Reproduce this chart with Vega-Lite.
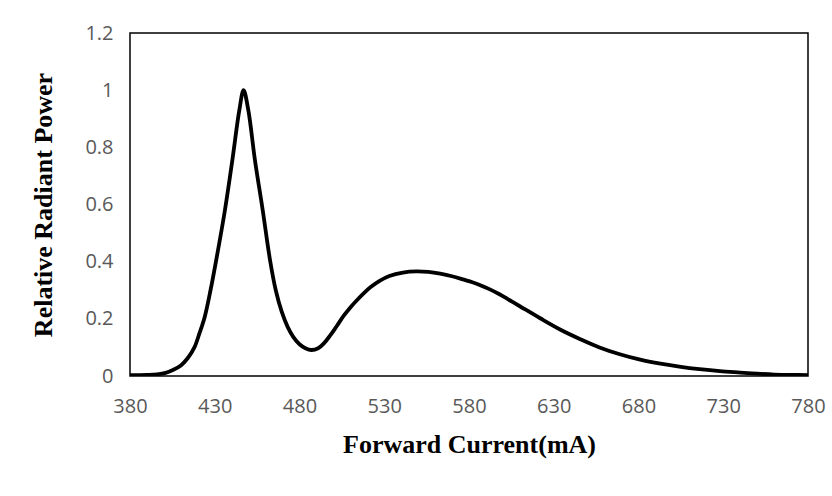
{
  "$schema": "https://vega.github.io/schema/vega-lite/v6.json",
  "autosize": "none",
  "width": 678,
  "height": 343,
  "padding": {"left": 130, "top": 33, "right": 24, "bottom": 120},
  "background": "white",
  "config": {
    "view": {"stroke": "#000000", "strokeWidth": 1.5},
    "axis": {
      "grid": false,
      "ticks": false,
      "domain": false,
      "labelFlush": false,
      "labelFont": "Open Sans",
      "labelFontSize": 20,
      "labelColor": "#595959",
      "titleFont": "Liberation Serif",
      "titleFontWeight": "bold",
      "titleFontSize": 26,
      "titleColor": "#000000"
    }
  },
  "data": {
    "values": [
      {"wl": 380, "p": 0.003},
      {"wl": 390, "p": 0.004},
      {"wl": 396, "p": 0.006},
      {"wl": 401, "p": 0.011},
      {"wl": 405, "p": 0.02},
      {"wl": 410, "p": 0.037},
      {"wl": 414, "p": 0.062},
      {"wl": 418, "p": 0.1},
      {"wl": 421, "p": 0.15},
      {"wl": 424, "p": 0.205},
      {"wl": 427.5, "p": 0.3},
      {"wl": 431, "p": 0.41},
      {"wl": 436, "p": 0.58},
      {"wl": 440.5, "p": 0.76},
      {"wl": 444.5, "p": 0.93},
      {"wl": 447, "p": 1.0},
      {"wl": 449.8, "p": 0.93},
      {"wl": 453.7, "p": 0.756},
      {"wl": 458.3, "p": 0.58},
      {"wl": 462.6, "p": 0.406},
      {"wl": 466, "p": 0.3},
      {"wl": 469.5, "p": 0.225},
      {"wl": 473, "p": 0.172},
      {"wl": 476.3, "p": 0.137},
      {"wl": 480, "p": 0.111},
      {"wl": 483.5, "p": 0.097},
      {"wl": 487, "p": 0.091},
      {"wl": 491, "p": 0.097},
      {"wl": 494.5, "p": 0.115},
      {"wl": 498, "p": 0.141},
      {"wl": 502, "p": 0.175},
      {"wl": 506, "p": 0.21},
      {"wl": 510, "p": 0.24},
      {"wl": 514, "p": 0.266},
      {"wl": 518, "p": 0.29},
      {"wl": 522, "p": 0.311},
      {"wl": 527, "p": 0.332},
      {"wl": 533, "p": 0.35},
      {"wl": 541, "p": 0.362},
      {"wl": 549, "p": 0.366},
      {"wl": 556, "p": 0.364},
      {"wl": 563, "p": 0.358},
      {"wl": 570, "p": 0.349},
      {"wl": 577, "p": 0.337},
      {"wl": 582, "p": 0.328},
      {"wl": 587, "p": 0.317},
      {"wl": 592, "p": 0.304},
      {"wl": 598, "p": 0.286},
      {"wl": 604, "p": 0.265},
      {"wl": 610, "p": 0.244},
      {"wl": 622, "p": 0.202},
      {"wl": 634, "p": 0.162},
      {"wl": 646, "p": 0.128},
      {"wl": 657, "p": 0.1},
      {"wl": 669, "p": 0.076},
      {"wl": 681, "p": 0.057},
      {"wl": 693, "p": 0.043},
      {"wl": 705, "p": 0.032},
      {"wl": 716, "p": 0.024},
      {"wl": 728, "p": 0.017},
      {"wl": 740, "p": 0.012},
      {"wl": 750, "p": 0.008},
      {"wl": 760, "p": 0.005},
      {"wl": 770, "p": 0.004},
      {"wl": 780, "p": 0.003}
    ]
  },
  "mark": {"type": "line", "color": "#000000", "strokeWidth": 3.8, "interpolate": "catmull-rom", "clip": true},
  "encoding": {
    "x": {
      "field": "wl",
      "type": "quantitative",
      "scale": {"domain": [380, 780], "nice": false, "zero": false},
      "axis": {
        "values": [380, 430, 480, 530, 580, 630, 680, 730, 780],
        "labelPadding": 20,
        "title": "Forward Current(mA)",
        "titlePadding": 15
      }
    },
    "y": {
      "field": "p",
      "type": "quantitative",
      "scale": {"domain": [0, 1.2], "nice": false},
      "axis": {
        "values": [0, 0.2, 0.4, 0.6, 0.8, 1, 1.2],
        "format": "~g",
        "labelPadding": 17,
        "title": "Relative Radiant Power",
        "titlePadding": 28
      }
    }
  }
}
